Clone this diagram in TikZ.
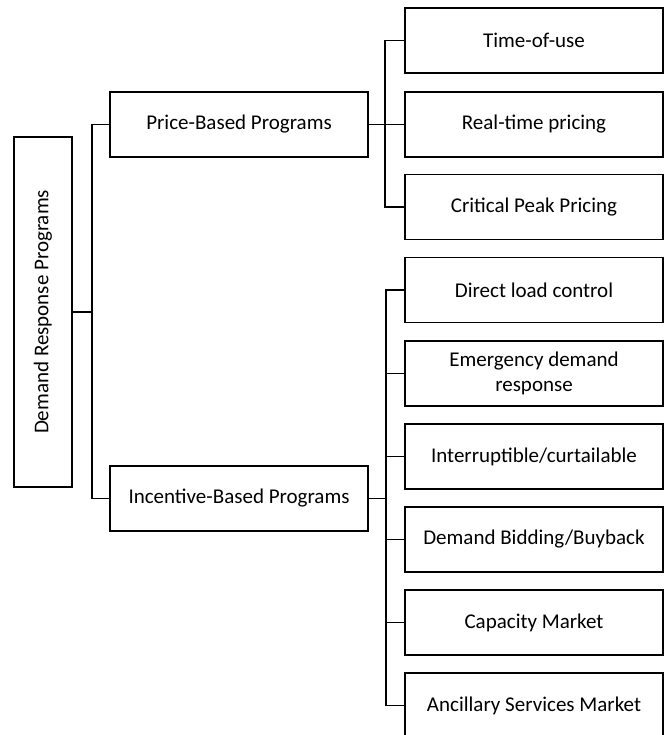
\documentclass[tikz,border=0pt]{standalone}
\usepackage{fontspec}
\setmainfont{Carlito}

\begin{document}
\begin{tikzpicture}[x=1pt,y=-1pt,line width=1.5pt,
	caja/.style={draw,align=center,inner sep=0pt,minimum width=258pt,minimum height=65pt,
		font=\fontsize{21}{25}\selectfont}]
	%MARCO
	\useasboundingbox (0,0) rectangle (664,735);

	%RAIZ
	\node[draw,rotate=90,minimum width=350pt,minimum height=58pt,inner sep=0pt,
		font=\fontsize{21}{25}\selectfont] (dr) at (43,312) {Demand Response Programs};

	%PROGRAMAS
	\node[caja] (pb) at (239,124.5) {Price-Based Programs};
	\node[caja] (ib) at (239,498.5) {Incentive-Based Programs};

	%HOJAS
	\foreach \nombre/\y/\texto in {p1/40.5/Time-of-use,p2/124.5/Real-time pricing,p3/207/Critical Peak Pricing,
		i1/290/Direct load control,i2/373.5/{Emergency demand\\response},i3/456.5/{Interruptible/curtailable},
		i4/539.5/{Demand Bidding/Buyback},i5/622.5/Capacity Market,i6/705.5/Ancillary Services Market}{
		\node[caja] (\nombre) at (534,\y) {\texto};
	}

	%TRONCOS
	\coordinate (tronco) at (92,0);
	\coordinate (pbar) at (385,0);
	\coordinate (ibar) at (386,0);

	%CONECTORES
	\draw (dr.south) -- (dr.south -| tronco);
	\draw (pb.west) -- (pb.west -| tronco) -- (ib.west -| tronco) -- (ib.west);
	\draw (pb.east) -- (pb.east -| pbar);
	\draw (p1.west) -- (p1.west -| pbar) -- (p3.west -| pbar) -- (p3.west);
	\draw (p2.west) -- (p2.west -| pbar);
	\draw (ib.east) -- (ib.east -| ibar);
	\draw (i1.west) -- (i1.west -| ibar) -- (i6.west -| ibar) -- (i6.west);
	\foreach \nombre in {i2,i3,i4,i5}{
		\draw (\nombre.west) -- (\nombre.west -| ibar);
	}
\end{tikzpicture}
\end{document}
